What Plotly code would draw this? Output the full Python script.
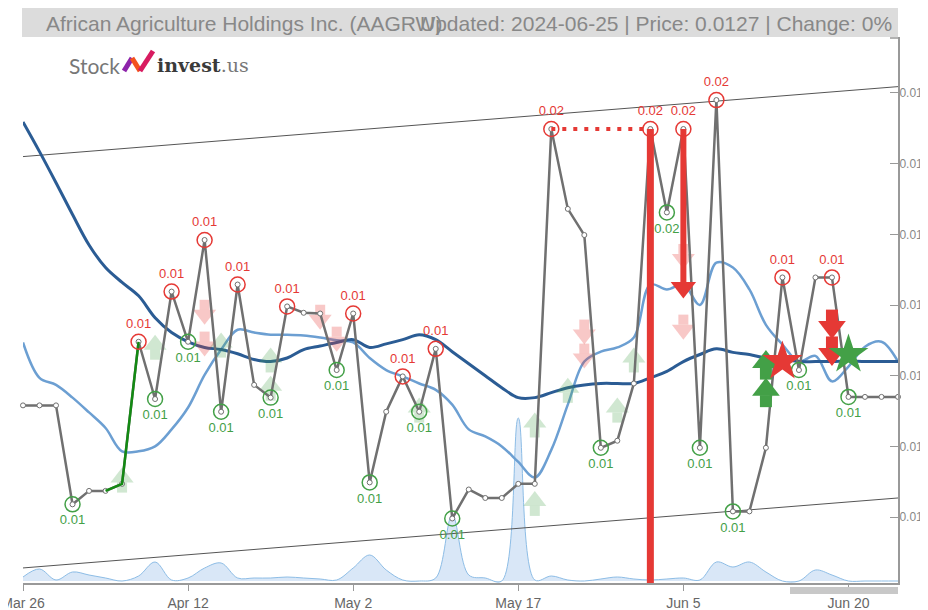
import plotly.graph_objects as go

# ---------------- data ----------------
tick_idx = [0, 10, 20, 30, 40, 50]
tick_labels = ["Mar 26", "Apr 12", "May 2", "May 17", "Jun 5", "Jun 20"]

price = [0.01258, 0.01258, 0.01258, 0.01118, 0.01137, 0.01137, 0.01147, 0.01348, 0.01267, 0.01419,
         0.01348, 0.01492, 0.01249, 0.01429, 0.01287, 0.01269, 0.01398, 0.01389, 0.01388, 0.01308,
         0.01388, 0.01149, 0.01249, 0.01299, 0.01249, 0.01338, 0.01098, 0.01139, 0.01127, 0.01127,
         0.01147, 0.01147, 0.01649, 0.01536, 0.01499, 0.01198, 0.01208, 0.01289, 0.01649, 0.01531,
         0.01649, 0.01198, 0.01690, 0.01108, 0.01108, 0.01198, 0.01439, 0.01308, 0.01439, 0.01439,
         0.01270, 0.01270, 0.01270, 0.01270]

ma_long = [0.01659, 0.01617, 0.01573, 0.01528, 0.01485, 0.01453, 0.01432, 0.01413, 0.01382, 0.01361,
           0.01348, 0.01340, 0.01337, 0.01331, 0.01323, 0.01320, 0.01325, 0.01337, 0.01342, 0.01347,
           0.01351, 0.01340, 0.01345, 0.01351, 0.01358, 0.01351, 0.01334, 0.01317, 0.01300, 0.01283,
           0.01269, 0.01269, 0.01276, 0.01283, 0.01287, 0.01289, 0.01289, 0.01289, 0.01297, 0.01306,
           0.01320, 0.01330, 0.01338, 0.01333, 0.01330, 0.01325, 0.01323, 0.01320, 0.01320, 0.01320,
           0.01321, 0.01320, 0.01320, 0.01320]

ma_short = [0.01347, 0.01297, 0.01287, 0.01269, 0.01248, 0.01226, 0.01193, 0.01193, 0.01200, 0.01224,
            0.01255, 0.01301, 0.01337, 0.01365, 0.01361, 0.01358, 0.01358, 0.01357, 0.01354, 0.01350,
            0.01347, 0.01325, 0.01308, 0.01299, 0.01289, 0.01280, 0.01259, 0.01224, 0.01214, 0.01200,
            0.01178, 0.01156, 0.01195, 0.01259, 0.01320, 0.01334, 0.01340, 0.01354, 0.01429, 0.01422,
            0.01429, 0.01400, 0.01460, 0.01453, 0.01422, 0.01372, 0.01344, 0.01320, 0.01328, 0.01292,
            0.01313, 0.01341, 0.01348, 0.01320]

volume = [4000, 12000, 1000, 9000, 6000, 3000, 0, 5000, 19000, 1000,
          3000, 13000, 18000, 3000, 3000, 3000, 4000, 3000, 2000, 1000,
          13000, 26000, 11000, 1000, 0, 3000, 66000, 6000, 3000, 0,
          163000, 1000, 5000, 1000, 0, 2000, 4000, 2000, 1000, 2000,
          3000, 1000, 19000, 14000, 19000, 9000, 0, 0, 11000, 6000,
          0, 0, 0, 0]

price_ticks = [0.011, 0.012, 0.013, 0.014, 0.015, 0.016, 0.017]

channel_x = [0, 53]
channel_upper = [0.01610, 0.01709]
channel_lower = [0.01028, 0.01127]

high_idx = [7, 9, 11, 13, 16, 20, 23, 25, 32, 38, 40, 42, 46, 49]
low_idx = [3, 8, 10, 12, 15, 19, 21, 24, 26, 35, 39, 41, 43, 47, 50]

pale_up_x = [6, 8, 12, 15, 15, 24, 31, 31, 33, 36, 37]
pale_up_y = [0.01153, 0.01341, 0.01344, 0.01323, 0.01283, 0.01252, 0.01231, 0.01120, 0.01280, 0.01252, 0.01323]
pale_dn_x = [11, 11, 18, 19, 34, 34, 40, 40]
pale_dn_y = [0.01389, 0.01344, 0.01382, 0.01351, 0.01361, 0.01327, 0.01468, 0.01368]
buy_x = [45, 45]
buy_y = [0.01316, 0.01277]
sell_x = [49, 49]
sell_y = [0.01372, 0.01334]
star_red_x, star_red_y = [46], [0.01320]
star_green_x, star_green_y = [50], [0.01330]

green_seg = [5, 6, 7]
dotted_seg = [32, 38]
bar_idx = 38
arrow_idx = 40
arrow_end = 0.01429

# ---------------- style ----------------
Y0, Y1 = 0.010067, 0.017792
W, H = 920, 602
OFF = 8                      # page body margin
L, R, T, B = 15, 30, 29, 27
PW = W - L - R
PLOT_H = H - T - B
DY = (Y1 - Y0) / PLOT_H
RED = "#e53935"
GREEN = "#43a047"
n = len(price)
xs = list(range(n))


def px(xp):
    return (xp - OFF - L) / PW


def py(yp):
    return (H - B - (yp - OFF)) / PLOT_H


fig = go.Figure()

# volume (primary, hidden axis)
fig.add_trace(go.Scatter(x=xs, y=volume, mode="lines", line=dict(color="#8dbde6", width=1, shape="spline"),
                         fill="tozeroy", fillcolor="rgba(120,170,225,0.28)", yaxis="y", hoverinfo="skip"))


def p(trace):
    trace.update(yaxis="y2")
    fig.add_trace(trace)


# channel
p(go.Scatter(x=channel_x, y=channel_upper, mode="lines", line=dict(color="#555", width=1)))
p(go.Scatter(x=channel_x, y=channel_lower, mode="lines", line=dict(color="#555", width=1)))

# moving averages
p(go.Scatter(x=xs, y=ma_short, mode="lines", line=dict(color="#6c9fd2", width=2.5, shape="spline")))
p(go.Scatter(x=xs, y=ma_long, mode="lines", line=dict(color="#2b5c94", width=3, shape="spline")))


def arrows(xv, yv, up, color, tri=20, sq=10, k=1.0):
    if up:
        ty = [v + 2 * k * DY for v in yv]
        sy = [v - 8 * k * DY for v in yv]
        sym = "triangle-up"
    else:
        ty = [v - 2 * k * DY for v in yv]
        sy = [v + 8 * k * DY for v in yv]
        sym = "triangle-down"
    p(go.Scatter(x=xv, y=sy, mode="markers", marker=dict(symbol="square", size=sq, color=color, line=dict(width=0))))
    p(go.Scatter(x=xv, y=ty, mode="markers", marker=dict(symbol=sym, size=tri, color=color, line=dict(width=0))))


# pale signals
arrows(pale_up_x, pale_up_y, True, "rgba(67,160,71,0.25)")
arrows(pale_dn_x, pale_dn_y, False, "rgba(229,57,53,0.28)")

# price line
p(go.Scatter(x=xs, y=price, mode="lines+markers", line=dict(color="#707070", width=2.5),
             marker=dict(size=5, color="white", line=dict(color="#707070", width=1)), cliponaxis=False))
p(go.Scatter(x=green_seg, y=[price[i] for i in green_seg], mode="lines", line=dict(color="#138a13", width=2.5)))

# red dotted resistance, vertical bar, arrow
p(go.Scatter(x=dotted_seg, y=[price[dotted_seg[0]], price[dotted_seg[1]]], mode="lines",
             line=dict(color=RED, width=4, dash="4px,7px")))
p(go.Scatter(x=[bar_idx, bar_idx], y=[price[bar_idx], Y0], mode="lines", line=dict(color=RED, width=7)))
p(go.Scatter(x=[arrow_idx, arrow_idx], y=[price[arrow_idx], arrow_end], mode="lines", line=dict(color=RED, width=6)))
p(go.Scatter(x=[arrow_idx], y=[arrow_end - 3 * DY], mode="markers",
             marker=dict(symbol="triangle-down", size=22, color=RED, line=dict(width=0))))

# high / low circles with labels
hv = [price[i] for i in high_idx]
lv = [price[i] for i in low_idx]
p(go.Scatter(x=high_idx, y=hv, mode="markers+text", text=[f"{v:.2f}" for v in hv], textposition="top center",
             textfont=dict(color=RED, size=13, family="Liberation Sans"),
             marker=dict(symbol="circle-open", size=15, color=RED, line=dict(width=1.5))))
p(go.Scatter(x=low_idx, y=lv, mode="markers+text", text=[f"{v:.2f}" for v in lv], textposition="bottom center",
             textfont=dict(color=GREEN, size=13, family="Liberation Sans"),
             marker=dict(symbol="circle-open", size=15, color=GREEN, line=dict(width=1.5))))

# strong signals
arrows(buy_x, buy_y, True, GREEN, tri=24, sq=12, k=1.15)
arrows(sell_x, sell_y, False, RED, tri=24, sq=12, k=1.15)
p(go.Scatter(x=star_red_x, y=star_red_y, mode="markers", marker=dict(symbol="star", size=30, color=RED, line=dict(width=0))))
p(go.Scatter(x=star_green_x, y=star_green_y, mode="markers", marker=dict(symbol="star", size=30, color=GREEN, line=dict(width=0))))

shapes = [
    dict(type="rect", xref="paper", yref="paper", x0=px(22), x1=px(898), y0=py(37), y1=py(8),
         fillcolor="#dcdcdc", line=dict(width=0), layer="below"),
    dict(type="rect", xref="paper", yref="paper", x0=px(790), x1=px(898), y0=py(594), y1=py(587),
         fillcolor="#c8c8c8", line=dict(width=0)),
    dict(type="line", xref="paper", yref="paper", x0=px(890), y0=py(38), x1=px(898), y1=py(38),
         line=dict(color="#999", width=1.5)),
    dict(type="line", xref="paper", yref="paper", x0=px(124), y0=py(71), x1=px(132), y1=py(58),
         line=dict(color="#8e24aa", width=5)),
    dict(type="line", xref="paper", yref="paper", x0=px(132), y0=py(58), x1=px(140), y1=py(71),
         line=dict(color="#f4511e", width=5)),
    dict(type="line", xref="paper", yref="paper", x0=px(140), y0=py(71), x1=px(153), y1=py(51),
         line=dict(color="#d81b60", width=5)),
]

annotations = [
    dict(xref="paper", yref="paper", x=px(44), y=py(23), xanchor="left", yanchor="middle", showarrow=False,
         text="African Agriculture Holdings Inc. (AAGRW)",
         font=dict(family="Liberation Sans", size=21, color="#888")),
    dict(xref="paper", yref="paper", x=px(894), y=py(23), xanchor="right", yanchor="middle", showarrow=False,
         text="Updated: 2024-06-25 | Price: 0.0127 | Change: 0%",
         font=dict(family="Liberation Sans", size=21, color="#888")),
    dict(xref="paper", yref="paper", x=px(67), y=py(65), xanchor="left", yanchor="middle", showarrow=False,
         text="Stock", font=dict(family="Lato", size=21, color="#777")),
    dict(xref="paper", yref="paper", x=px(155), y=py(65), xanchor="left", yanchor="middle", showarrow=False,
         text="<b>invest</b><span style='color:#777'>.us</span>",
         font=dict(family="DejaVu Serif", size=19, color="#3a3a3a")),
]

fig.update_layout(
    width=W, height=H, margin=dict(l=L, r=R, t=T, b=B, autoexpand=False),
    paper_bgcolor="white", plot_bgcolor="white", showlegend=False,
    font=dict(family="Liberation Sans", color="#666"),
    xaxis=dict(range=[0, n - 1], tickvals=tick_idx, ticktext=tick_labels, showgrid=False, zeroline=False,
               showline=True, linecolor="#999", linewidth=2, ticks="outside", ticklen=6, tickcolor="#999",
               tickfont=dict(size=14, color="#666"), automargin=False, ticklabeloverflow="allow"),
    yaxis=dict(range=[-2000, 544000], visible=False, fixedrange=True, automargin=False),
    yaxis2=dict(range=[Y0, Y1], overlaying="y", side="right", anchor="x",
                tickvals=price_ticks, tickformat=".3f",
                showgrid=False, zeroline=False, showline=True, linecolor="#999", linewidth=2,
                ticks="inside", ticklen=8, tickcolor="#999", tickfont=dict(size=12, color="#888"),
                ticklabelstandoff=-3, automargin=False, ticklabeloverflow="allow"),
    shapes=shapes, annotations=annotations,
)

fig.write_html("out.html")
